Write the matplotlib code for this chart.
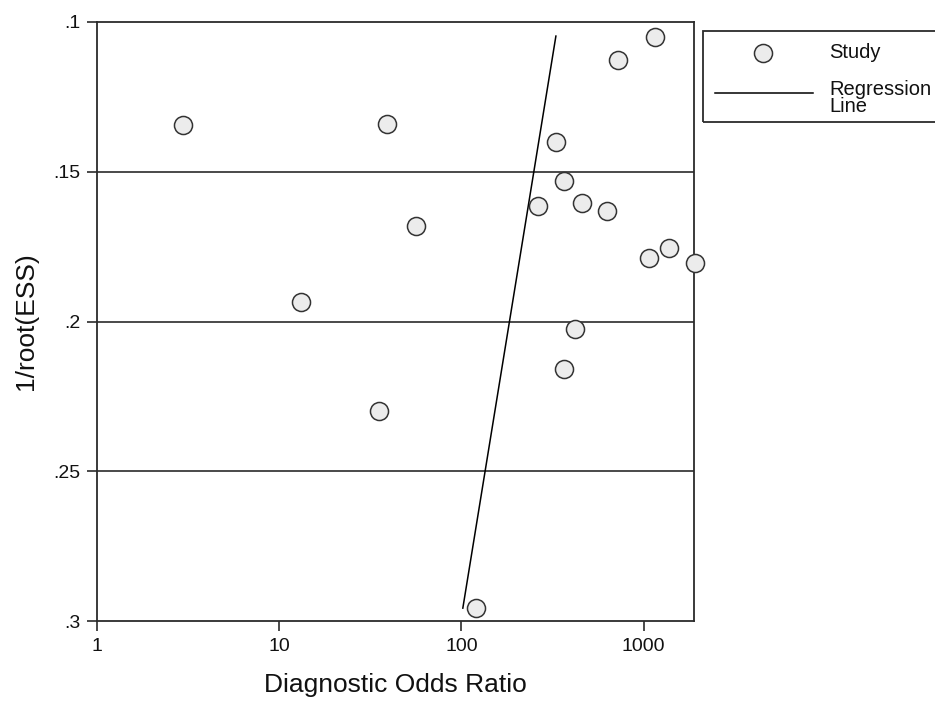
import numpy as np
import matplotlib
matplotlib.use("Agg")
import matplotlib.pyplot as plt
from matplotlib.lines import Line2D
from matplotlib.patches import Rectangle

plt.rcParams['font.family'] = ['Liberation Sans', 'DejaVu Sans']

# diagnostic odds ratio and 1/sqrt(ESS) for each study
dor = [2.96, 13.2, 35.2, 39.0, 56.2, 120, 262, 330, 365, 365,
       419, 458, 628, 721, 1067, 1151, 1373, 1906]
inv_root_ess = [.1344, .1935, .2299, .1341, .1681, .2957, .1614, .1401, .1531, .2159,
                .2025, .1604, .1631, .1127, .1788, .1050, .1755, .1805]

# regression line end points
reg_x = [101.8, 330]
reg_y = [.2957, .1047]

xticks = [1, 10, 100, 1000]
xtick_labels = ["1", "10", "100", "1000"]
yticks = [.1, .15, .2, .25, .3]
ytick_labels = [".1", ".15", ".2", ".25", ".3"]

W, H = 935, 701
fig = plt.figure(figsize=(W / 100, H / 100), dpi=100)
ax = fig.add_axes([97 / W, 1 - 621 / H, (694 - 97) / W, (621 - 22) / H])

edge = "#2b2b2b"
for ygrid in yticks[1:-1]:
    ax.axhline(ygrid, color=edge, lw=1.2, zorder=1)

ax.plot(reg_x, reg_y, color="black", lw=1.1, zorder=2)
ax.plot(dor, inv_root_ess, linestyle="none", marker="o", markersize=13,
        markerfacecolor="#ececec", markeredgecolor="#333333", markeredgewidth=1.1,
        zorder=5, clip_on=False)

ax.set_xscale("log")
ax.set_xlim(1, 1890)
ax.set_ylim(.3, .1)
ax.set_xticks(xticks)
ax.set_xticklabels(xtick_labels)
ax.xaxis.set_minor_locator(matplotlib.ticker.NullLocator())
ax.set_yticks(yticks)
ax.set_yticklabels(ytick_labels)
ax.tick_params(axis="both", which="major", length=7, width=1.2, color=edge,
               labelsize=14, pad=5, labelcolor="#111111")
for sp in ax.spines.values():
    sp.set_color(edge)
    sp.set_linewidth(1.3)

ax.set_xlabel("Diagnostic Odds Ratio", fontsize=19, labelpad=13, color="#111111")
ax.set_ylabel("1/root(ESS)", fontsize=19, color="#111111")
ax.yaxis.set_label_coords((26 - 97) / 597, 0.5)
ax.yaxis.label.set_va("center")

# legend drawn by hand so it can run off the right edge like the original
def fx(px):
    return px / W

def fy(py):
    return 1 - py / H

fig.patches.append(Rectangle((fx(703), fy(122)), fx(980) - fx(703), fy(31) - fy(122),
                             transform=fig.transFigure, fill=False,
                             edgecolor=edge, lw=1.3))
fig.lines.append(Line2D([fx(763)], [fy(53)], transform=fig.transFigure, linestyle="none",
                        marker="o", markersize=13, markerfacecolor="#ececec",
                        markeredgecolor="#333333", markeredgewidth=1.1))
fig.lines.append(Line2D([fx(715), fx(813)], [fy(93), fy(93)], transform=fig.transFigure,
                        color="black", lw=1.1))
fig.text(fx(829), fy(53), "Study", fontsize=14.5, va="center", ha="left", color="#111111")
fig.text(fx(829), fy(98), "Regression\nLine", fontsize=14.5, va="center", ha="left",
         linespacing=0.9, color="#111111")

fig.savefig("out.png", dpi=100)
